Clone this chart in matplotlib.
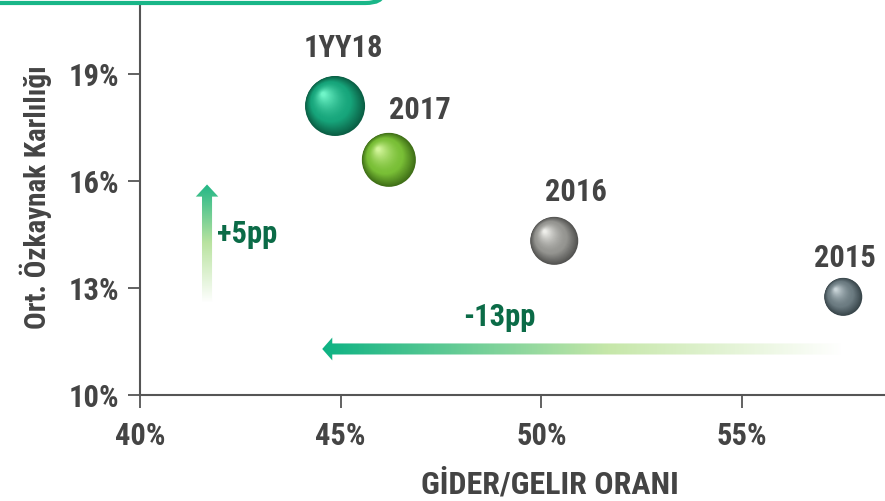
import numpy as np
import matplotlib
matplotlib.use('Agg')
import matplotlib.pyplot as plt
from matplotlib import transforms
from matplotlib.patches import FancyArrow, FancyBboxPatch
from matplotlib.colors import to_rgb

plt.rcParams['font.family'] = ['Liberation Sans Narrow', 'Roboto Condensed', 'Open Sans Condensed',
                               'DejaVu Sans Condensed', 'Liberation Sans', 'DejaVu Sans']
plt.rcParams['font.weight'] = 'bold'

# veriler
labels = ['1YY18', '2017', '2016', '2015']
cost_income = [44.86, 46.2, 50.32, 57.52]   # gider/gelir orani (%)
roe = [18.10, 16.59, 14.32, 12.75]           # ort. ozkaynak karliligi (%)
bubble_r = [30, 27, 24, 19]                  # balon yaricapi (piksel)

x_ticks = [40, 45, 50, 55]
y_ticks = [10, 13, 16, 19]

# renkler: koyu, ana, parlak
sphere_cols = [
    ('#0a5e44', '#17a57b', '#6ff5c8'),
    ('#3f6e17', '#79bf36', '#d2f59a'),
    ('#525250', '#959591', '#eeeeea'),
    ('#38454a', '#6c7c82', '#c9d4d8'),
]
label_off = [(8, 58), (31, 50), (22, 49), (2, 39)]

TXT = '#444444'
GREEN_TXT = '#0b6b47'

fig = plt.figure(figsize=(8.85, 5.01), dpi=100)
ax = fig.add_axes([140 / 885, 106 / 501, 745 / 885, 390 / 501])
ax.set_xlim(40, 58.56)
ax.set_ylim(10, 20.93)

for s in ['top', 'right']:
    ax.spines[s].set_visible(False)
for s in ['left', 'bottom']:
    ax.spines[s].set_color('#555555')
    ax.spines[s].set_linewidth(1.5)

ax.set_xticks(x_ticks)
ax.set_xticklabels([f'{v}%' for v in x_ticks])
ax.set_yticks(y_ticks)
ax.set_yticklabels([f'{v}%' for v in y_ticks])
ax.tick_params(axis='both', colors='#555555', length=9, width=1.3,
               labelsize=22, labelcolor=TXT)
ax.tick_params(axis='x', pad=10)
ax.tick_params(axis='y', pad=6)

fig.text(550 / 885, 1 - 484 / 501, 'GİDER/GELIR ORANI', ha='center', va='center',
         fontsize=23, color=TXT, fontweight='bold')
fig.text(36 / 885, 1 - 197 / 501, 'Ort. Özkaynak Karlılığı', ha='center', va='center',
         rotation=90, fontsize=21, color=TXT, fontweight='bold')


def mix(c1, c2, t):
    a, b = np.array(to_rgb(c1)), np.array(to_rgb(c2))
    return tuple(a + (b - a) * t)


def sphere(x, y, r, dark, base, light, n=40):
    hx, hy = -0.42 * r, 0.42 * r
    for i in range(n):
        t = i / (n - 1)
        ri = r * (1 - 0.93 * t)
        k = 1 - ri / r
        tr = transforms.offset_copy(ax.transData, fig=fig, x=hx * k, y=hy * k, units='dots')
        if t < 0.35:
            c = mix(dark, base, t / 0.35)
        else:
            c = mix(base, light, ((t - 0.35) / 0.65) ** 1.6)
        d = 2 * ri * 72 / 100
        ax.scatter([x], [y], s=d ** 2, color=c, edgecolors='none', transform=tr, zorder=5 + i * 0.01)


for i in range(len(labels)):
    dk, bs, lt = sphere_cols[i]
    sphere(cost_income[i], roe[i], bubble_r[i], dk, bs, lt)
    ax.annotate(labels[i], (cost_income[i], roe[i]),
                xytext=(label_off[i][0] * 0.72, label_off[i][1] * 0.72),
                textcoords='offset points', ha='center', va='center',
                fontsize=22, color=TXT, fontweight='bold', zorder=10)


def grad_cmap_img(colors, stops, n=256):
    pos = np.linspace(0, 1, n)
    rgb = np.zeros((n, 3))
    cs = [np.array(to_rgb(c)) for c in colors]
    for j in range(3):
        rgb[:, j] = np.interp(pos, stops, [c[j] for c in cs])
    return rgb


# yatay ok (-13pp)
h_y, h_x0, h_x1 = 11.29, 57.45, 44.54
arr_h = FancyArrow(h_x0, h_y, h_x1 - h_x0, 0, width=0.31, head_width=0.64,
                   head_length=0.25, length_includes_head=True,
                   transform=ax.transData, facecolor='none', edgecolor='none')
ax.add_patch(arr_h)
g = grad_cmap_img(['#0cb283', '#c6e7a9', '#ffffff'], [0, 0.55, 1.0])
im = ax.imshow(g[np.newaxis, :, :], extent=[h_x1 - 0.05, h_x0 + 0.05, h_y - 0.4, h_y + 0.4],
               aspect='auto', zorder=3)
im.set_clip_path(arr_h)

# dikey ok (+5pp)
v_x, v_y0, v_y1 = 41.67, 12.62, 15.9
arr_v = FancyArrow(v_x, v_y0, 0, v_y1 - v_y0, width=0.25, head_width=0.56,
                   head_length=0.34, length_includes_head=True,
                   transform=ax.transData, facecolor='none', edgecolor='none')
ax.add_patch(arr_v)
g2 = grad_cmap_img(['#1cb585', '#b9e3a0', '#ffffff'], [0, 0.5, 1.0])
im2 = ax.imshow(g2[:, np.newaxis, :], extent=[v_x - 0.4, v_x + 0.4, v_y0 - 0.05, v_y1 + 0.05],
                origin='upper', aspect='auto', zorder=3)
im2.set_clip_path(arr_v)

ax.text(41.92, 14.5, '+5pp', ha='left', va='center', fontsize=22,
        color=GREEN_TXT, fontweight='bold')
ax.text(48.05, 12.2, '-13pp', ha='left', va='center', fontsize=22,
        color=GREEN_TXT, fontweight='bold')

ax.set_xlim(40, 58.56)
ax.set_ylim(10, 20.93)

# ust baslik kutusunun alt kenari
box = FancyBboxPatch((-0.02, 1 - 3 / 501), 383 / 885 + 0.02, 0.1,
                     boxstyle='round,pad=0,rounding_size=0.02',
                     transform=fig.transFigure, facecolor='white',
                     edgecolor='#19b688', linewidth=3, clip_on=False)
fig.patches.append(box)

fig.savefig('out.png', dpi=100)
